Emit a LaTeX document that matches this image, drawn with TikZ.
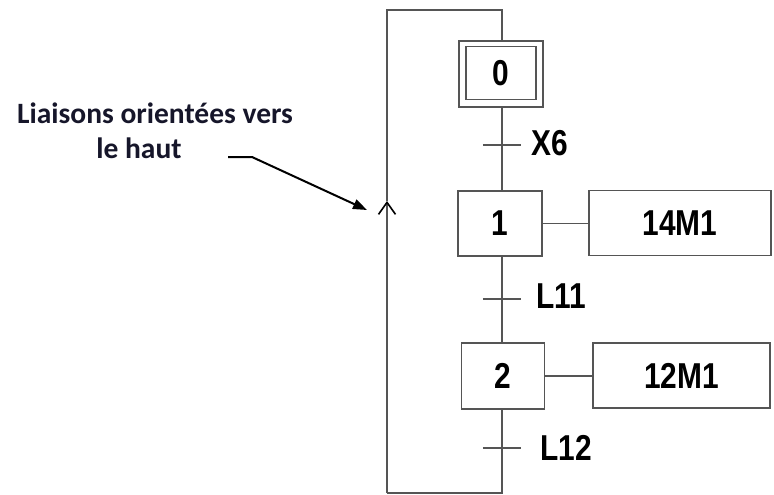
\documentclass[tikz,border=0pt]{standalone}
\usepackage{fontspec}
\setmainfont{Liberation Sans}
\newfontfamily\grafcetfont[FakeStretch=0.83]{Liberation Sans Bold}
\newfontfamily\notefont{Carlito Bold}
\usetikzlibrary{arrows.meta}
\definecolor{linegray}{HTML}{555555}
\definecolor{notecol}{HTML}{16162A}
\begin{document}
\begin{tikzpicture}[x=1pt,y=-1pt,
  link/.style={draw=linegray,line width=1.6pt},
  gfont/.style={font=\grafcetfont\fontsize{36}{36}\selectfont},
  stepbox/.style={link,rectangle,minimum width=84pt,minimum height=65pt,inner sep=0pt,gfont},
  actionbox/.style={link,rectangle,minimum height=65pt,inner sep=0pt,gfont},
  tick/.style={inner sep=0pt,minimum width=38pt,minimum height=0pt},
  cond/.style={anchor=base west,inner sep=0pt,gfont}]
  \useasboundingbox (0,0) rectangle (774,495);

  % initial step (double frame)
  \node[stepbox,minimum width=84pt,minimum height=66pt] (s0) at (501,74) {};
  \node[stepbox,minimum width=70pt,minimum height=53pt] (s0in) at (501,73) {0};

  % steps
  \node[stepbox] (s1) at (500,223.5) {1};
  \node[stepbox,minimum width=83pt,minimum height=66pt] (s2) at (503,376) {2};

  % actions
  \node[actionbox,minimum width=182pt] (a1) at (680,223) {14M1};
  \node[actionbox,minimum width=177pt,minimum height=65pt] (a2) at (681.5,375.5) {12M1};

  % transitions
  \node[tick] (t0) at (502,145) {};
  \node[tick] (t1) at (502,299) {};
  \node[tick] (t2) at (502,448) {};
  \draw[link] (t0.west) -- (t0.east);
  \draw[link] (t1.west) -- (t1.east);
  \draw[link] (t2.west) -- (t2.east);
  \node[cond] (c0) at (531,155) {X6};
  \node[cond] (c1) at (536,308) {L11};
  \node[cond] (c2) at (540,460) {L12};

  % loop corners
  \coordinate (bl) at (387,493);
  \coordinate (br) at (502,493);
  \coordinate (tl) at (387,10);
  \coordinate (tr) at (502,10);
  \coordinate (up) at (387,201);

  % vertical links
  \draw[link] (s0.south -| t0) -- (t0) -- (s1.north -| t0);
  \draw[link] (s1.south -| t1) -- (t1) -- (s2.north -| t1);
  \draw[link] (s2.south -| t2) -- (t2) -- (br) -- (bl);
  \draw[link] (up) -- (tl) -- (tr) -- (s0.north -| tr);
  \draw[link,-{Straight Barb[length=12pt,width=17pt,line width=1.6pt,color=black]}] (bl) -- (up);

  % action links
  \draw[link] (s1.east) -- (a1.west |- s1.east);
  \draw[link] (s2.east) -- (a2.west |- s2.east);

  % annotation
  \node[text=notecol,font=\notefont\fontsize{29.5}{35}\selectfont,align=center,inner sep=0pt]
    (note) at (155,131) {Liaisons orientées vers\\le haut\hspace*{32pt}};
  \coordinate (n0) at (228,157);
  \coordinate (n1) at (252,157);
  \coordinate (n2) at (367,210);
  \draw[black,line width=2pt,-{Triangle[length=14pt,width=10pt]}] (n0) -- (n1) -- (n2);
\end{tikzpicture}
\end{document}
